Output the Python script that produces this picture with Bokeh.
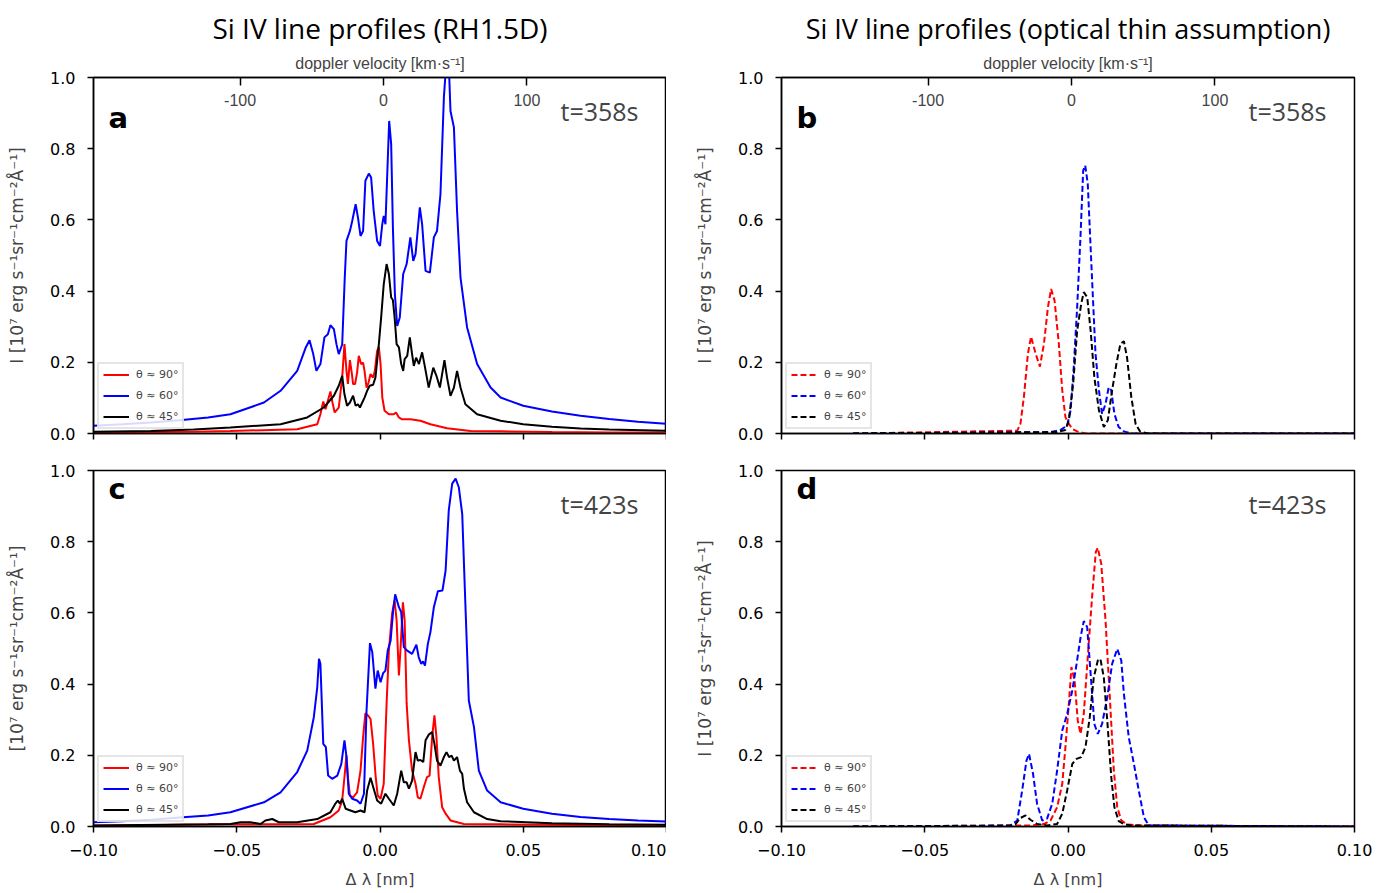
from bokeh.plotting import figure
from bokeh.layouts import gridplot
from bokeh.models import Range1d, LinearAxis, FixedTicker, Label, CustomJSTickFormatter
from bokeh.embed import file_html
from bokeh.resources import INLINE

# ---------------- data: panel a (RH1.5D, t=358s) ----------------
a_blue_x = [-0.1, -0.09, -0.08, -0.07, -0.06, -0.0522, -0.0405, -0.0347, -0.0289, -0.026, -0.0246, -0.0233,
            -0.0222, -0.0208, -0.0194, -0.0182, -0.0173, -0.0161, -0.0152, -0.0144, -0.0132, -0.0123, -0.0117,
            -0.0105, -0.0097, -0.0085, -0.0077, -0.0068, -0.0059, -0.0051, -0.0039, -0.0031, -0.0022, -0.001,
            0.0, 0.0008, 0.0013, 0.0019, 0.0027, 0.0032, 0.0039, 0.0045, 0.0052, 0.006, 0.0069, 0.0081, 0.0093,
            0.0106, 0.0116, 0.0124, 0.0139, 0.0147, 0.0159, 0.0174, 0.0188, 0.0199, 0.0211, 0.0223, 0.0232,
            0.024, 0.0246, 0.0258, 0.0269, 0.0281, 0.0304, 0.0339, 0.0386, 0.0421, 0.05, 0.06, 0.07, 0.08,
            0.09, 0.1]
a_blue_y = [0.022, 0.026, 0.031, 0.037, 0.045, 0.054, 0.087, 0.12, 0.176, 0.24, 0.262, 0.223,
            0.176, 0.195, 0.27, 0.279, 0.304, 0.293, 0.251, 0.223, 0.25, 0.438, 0.541,
            0.569, 0.597, 0.644, 0.607, 0.555, 0.569, 0.71, 0.73, 0.719, 0.625, 0.541,
            0.527, 0.588, 0.611, 0.588, 0.766, 0.878, 0.813, 0.579, 0.391, 0.302, 0.326, 0.448, 0.476,
            0.551, 0.485, 0.504, 0.635, 0.588, 0.457, 0.452, 0.551, 0.569, 0.672, 0.944, 1.05,
            1.04, 0.906, 0.86, 0.625, 0.438, 0.298, 0.195, 0.129, 0.101, 0.078, 0.062, 0.05, 0.041,
            0.033, 0.027]
a_red_x = [-0.1, -0.08, -0.065, -0.0522, -0.0289, -0.0219, -0.0208, -0.0198, -0.019, -0.0182, -0.0173,
           -0.0166, -0.0158, -0.0144, -0.0132, -0.0124, -0.0117, -0.0112, -0.0105, -0.0098, -0.0094,
           -0.0087, -0.008, -0.0074, -0.0066, -0.0059, -0.0054, -0.0047, -0.004, -0.0033, -0.0024,
           -0.0018, -0.001, -0.0004, 0.0002, 0.0008, 0.0016, 0.0031, 0.0048, 0.0056, 0.0066, 0.0077,
           0.0106, 0.0141, 0.0176, 0.0234, 0.0316, 0.0421, 0.06, 0.08, 0.1]
a_red_y = [0.003, 0.004, 0.005, 0.007, 0.012, 0.026, 0.054, 0.09, 0.068, 0.092, 0.118,
           0.087, 0.059, 0.073, 0.157, 0.251, 0.176, 0.139, 0.206, 0.167, 0.139,
           0.139, 0.171, 0.218, 0.195, 0.199, 0.176, 0.129, 0.143, 0.167, 0.157,
           0.176, 0.232, 0.243, 0.195, 0.101, 0.064, 0.054, 0.054, 0.059, 0.045, 0.04,
           0.04, 0.036, 0.026, 0.015, 0.007, 0.006, 0.004, 0.003, 0.003]
a_black_x = [-0.1, -0.08, -0.065, -0.0522, -0.0347, -0.0254, -0.0196, -0.0161, -0.0144, -0.0132, -0.0124,
             -0.0115, -0.0105, -0.0094, -0.0085, -0.0077, -0.007, -0.0062, -0.0054, -0.0045, -0.0036,
             -0.0024, -0.0016, -0.0004, 0.0004, 0.0013, 0.0023, 0.0031, 0.0039, 0.0045, 0.0051, 0.0058,
             0.0066, 0.0074, 0.0081, 0.0086, 0.0095, 0.0104, 0.0112, 0.0118, 0.0126, 0.0136, 0.0147,
             0.0155, 0.017, 0.0186, 0.0197, 0.0209, 0.0225, 0.0234, 0.0246, 0.0258, 0.0269, 0.0281,
             0.0298, 0.0339, 0.0421, 0.05, 0.06, 0.07, 0.08, 0.1]
a_black_y = [0.005, 0.007, 0.011, 0.017, 0.026, 0.045, 0.073, 0.106, 0.134, 0.162, 0.11,
             0.078, 0.087, 0.106, 0.078, 0.082, 0.073, 0.087, 0.101, 0.12, 0.134,
             0.137, 0.157, 0.251, 0.326, 0.419, 0.476, 0.448, 0.382, 0.375, 0.326, 0.251,
             0.242, 0.195, 0.176, 0.209, 0.218, 0.27, 0.223, 0.19, 0.213, 0.195, 0.228,
             0.195, 0.129, 0.185, 0.162, 0.129, 0.206, 0.157, 0.106, 0.129, 0.176, 0.129,
             0.082, 0.054, 0.036, 0.026, 0.019, 0.014, 0.011, 0.008]

# ---------------- data: panel c (RH1.5D, t=423s) ----------------
c_blue_x = [-0.1, -0.09, -0.08, -0.07, -0.06, -0.0522, -0.0405, -0.0347, -0.0289, -0.0254, -0.0231,
            -0.0219, -0.0213, -0.0208, -0.0198, -0.0189, -0.0181, -0.0167, -0.0149, -0.0135, -0.0124,
            -0.0117, -0.0109, -0.0097, -0.008, -0.0068, -0.0056, -0.0047, -0.0035, -0.0027, -0.0016,
            -0.0008, 0.0002, 0.0011, 0.0019, 0.0027, 0.0037, 0.0046, 0.0053, 0.0066, 0.0074, 0.0083,
            0.0095, 0.0112, 0.0127, 0.0135, 0.0144, 0.015, 0.0157, 0.0167, 0.0176, 0.0188, 0.0202,
            0.0218, 0.0229, 0.024, 0.0252, 0.0264, 0.0275, 0.0287, 0.0298, 0.031, 0.0328, 0.0345,
            0.0374, 0.0421, 0.05, 0.06, 0.07, 0.08, 0.09, 0.1]
c_blue_y = [0.012, 0.015, 0.019, 0.025, 0.031, 0.04, 0.068, 0.096, 0.153, 0.213, 0.307,
            0.391, 0.471, 0.457, 0.232, 0.223, 0.143, 0.134, 0.143, 0.176, 0.242,
            0.195, 0.092, 0.078, 0.073, 0.064, 0.092, 0.326, 0.515, 0.49, 0.387,
            0.438, 0.405, 0.431, 0.438, 0.494, 0.522, 0.607, 0.652, 0.616, 0.602, 0.504,
            0.494, 0.485, 0.511, 0.476, 0.457, 0.464, 0.452, 0.513, 0.546, 0.616, 0.661,
            0.663, 0.719, 0.888, 0.963, 0.977, 0.953, 0.878, 0.625, 0.354, 0.279, 0.157,
            0.101, 0.068, 0.05, 0.036, 0.027, 0.021, 0.017, 0.014]
c_red_x = [-0.1, -0.075, -0.0522, -0.0231, -0.0173, -0.0144, -0.0132, -0.0124, -0.0117, -0.0112,
           -0.0105, -0.0094, -0.008, -0.0068, -0.0059, -0.0051, -0.0042, -0.0033, -0.0024, -0.0015,
           -0.0008, 0.0002, 0.0013, 0.0023, 0.0031, 0.0042, 0.0051, 0.0058, 0.0066, 0.0072, 0.008,
           0.0086, 0.0093, 0.0101, 0.0112, 0.0124, 0.0132, 0.0141, 0.0153, 0.0164, 0.0173, 0.0182,
           0.019, 0.0197, 0.0205, 0.0217, 0.0229, 0.0246, 0.0293, 0.0421, 0.07, 0.1]
c_red_y = [0.003, 0.004, 0.006, 0.007, 0.026, 0.045, 0.073, 0.139, 0.2, 0.139,
           0.087, 0.082, 0.096, 0.157, 0.251, 0.318, 0.312, 0.302, 0.232, 0.139,
           0.087, 0.078, 0.12, 0.345, 0.494, 0.597, 0.635, 0.579, 0.424, 0.504, 0.63,
           0.579, 0.345, 0.242, 0.157, 0.12, 0.082, 0.078, 0.111, 0.139, 0.143, 0.251,
           0.312, 0.251, 0.139, 0.054, 0.036, 0.017, 0.007, 0.006, 0.004, 0.003]
c_black_x = [-0.1, -0.075, -0.06, -0.0522, -0.0487, -0.0452, -0.0417, -0.04, -0.0376, -0.0353, -0.0289,
             -0.0219, -0.0173, -0.0156, -0.0147, -0.014, -0.0132, -0.012, -0.0103, -0.0086, -0.0068,
             -0.0054, -0.0045, -0.0033, -0.0022, -0.001, 0.0004, 0.0019, 0.0031, 0.0048, 0.006, 0.0074,
             0.0083, 0.0093, 0.0101, 0.0112, 0.0124, 0.0132, 0.0141, 0.0151, 0.0159, 0.017, 0.0182,
             0.019, 0.0199, 0.0211, 0.0223, 0.0232, 0.0241, 0.025, 0.0258, 0.0269, 0.0279, 0.0287,
             0.0293, 0.0304, 0.0328, 0.0374, 0.0421, 0.06, 0.08, 0.1]
c_black_y = [0.003, 0.005, 0.006, 0.007, 0.012, 0.012, 0.007, 0.017, 0.021, 0.012, 0.012,
             0.021, 0.04, 0.064, 0.073, 0.064, 0.078, 0.05, 0.045, 0.04, 0.045,
             0.04, 0.101, 0.137, 0.106, 0.073, 0.064, 0.092, 0.078, 0.059, 0.092, 0.157,
             0.124, 0.124, 0.106, 0.129, 0.209, 0.185, 0.187, 0.181, 0.242, 0.258, 0.265,
             0.232, 0.185, 0.171, 0.195, 0.209, 0.195, 0.199, 0.185, 0.195, 0.157, 0.148,
             0.106, 0.068, 0.04, 0.021, 0.015, 0.009, 0.006, 0.005]

# ---------------- data: panel b (optically thin, t=358s) ----------------
b_red_x = [-0.075, -0.0177, -0.0166, -0.0154, -0.014, -0.0129, -0.0113, -0.0098, -0.0084, -0.007,
           -0.0059, -0.0047, -0.0032, -0.002, -0.0009, 0.0003, 0.0015, 0.0032, 0.006, 0.1]
b_red_y = [0.0, 0.008, 0.027, 0.102, 0.224, 0.272, 0.224, 0.188, 0.252, 0.355,
           0.406, 0.374, 0.252, 0.121, 0.046, 0.027, 0.013, 0.006, 0.0, 0.0]
b_blue_x = [-0.075, -0.0061, -0.0026, -0.0003, 0.0009, 0.002, 0.0032, 0.0044, 0.0053, 0.006, 0.0069,
            0.0081, 0.0096, 0.0108, 0.0119, 0.0131, 0.0142, 0.0151, 0.0162, 0.0177, 0.0195, 0.022, 0.1]
b_blue_y = [0.0, 0.004, 0.01, 0.022, 0.065, 0.186, 0.355, 0.561, 0.739, 0.753, 0.701,
            0.486, 0.224, 0.121, 0.055, 0.083, 0.13, 0.121, 0.055, 0.018, 0.006, 0.0, 0.0]
b_black_x = [-0.075, -0.0038, -0.0009, 0.0003, 0.0018, 0.0032, 0.0046, 0.0055, 0.0067, 0.0079, 0.0092,
             0.0108, 0.0125, 0.0139, 0.0154, 0.0169, 0.0183, 0.0195, 0.0206, 0.0221, 0.0236, 0.0251,
             0.028, 0.1]
b_black_y = [0.0, 0.004, 0.01, 0.037, 0.14, 0.289, 0.364, 0.397, 0.383, 0.289, 0.158,
             0.065, 0.018, 0.037, 0.121, 0.196, 0.252, 0.259, 0.214, 0.102, 0.027, 0.006,
             0.0, 0.0]

# ---------------- data: panel d (optically thin, t=423s) ----------------
d_red_x = [-0.075, -0.0131, -0.0084, -0.0061, -0.0038, -0.002, -0.0009, 0.0003, 0.0012, 0.0023, 0.0034,
           0.0044, 0.0055, 0.0069, 0.0084, 0.0097, 0.0104, 0.0116, 0.0131, 0.0146, 0.016, 0.0172,
           0.0186, 0.0206, 0.0253, 0.1]
d_red_y = [0.0, 0.003, 0.007, 0.017, 0.054, 0.12, 0.223, 0.345, 0.448, 0.41, 0.298,
           0.26, 0.316, 0.476, 0.644, 0.771, 0.783, 0.738, 0.579, 0.363, 0.157, 0.054,
           0.017, 0.006, 0.003, 0.0]
d_blue_x = [-0.075, -0.0201, -0.0177, -0.016, -0.0145, -0.0136, -0.0122, -0.0108, -0.009, -0.0073,
            -0.0055, -0.0038, -0.002, -0.0003, 0.0015, 0.003, 0.0044, 0.0055, 0.0067, 0.0079, 0.0092,
            0.0104, 0.0119, 0.0137, 0.0154, 0.0172, 0.0186, 0.0195, 0.0212, 0.023, 0.0247, 0.0265,
            0.0282, 0.1]
d_blue_y = [0.0, 0.003, 0.017, 0.101, 0.185, 0.204, 0.148, 0.064, 0.017, 0.022,
            0.064, 0.157, 0.27, 0.316, 0.382, 0.457, 0.532, 0.577, 0.56, 0.429, 0.288,
            0.26, 0.288, 0.363, 0.457, 0.499, 0.466, 0.373, 0.251, 0.176, 0.101, 0.026,
            0.003, 0.0]
d_black_x = [-0.075, -0.0201, -0.0183, -0.0166, -0.0148, -0.0131, -0.0108, -0.0073, -0.0038, -0.002,
             -0.0003, 0.0015, 0.003, 0.0046, 0.0061, 0.0076, 0.009, 0.0104, 0.0113, 0.0125, 0.0137,
             0.0151, 0.0162, 0.0177, 0.0195, 0.0218, 0.1]
d_black_y = [0.0, 0.002, 0.007, 0.024, 0.031, 0.019, 0.007, 0.003, 0.007, 0.036,
             0.101, 0.176, 0.19, 0.195, 0.223, 0.307, 0.419, 0.466, 0.471, 0.419, 0.298,
             0.139, 0.054, 0.015, 0.007, 0.003, 0.0]

x_ticks = [-0.1, -0.05, 0.0, 0.05, 0.1]
y_ticks = [0.0, 0.2, 0.4, 0.6, 0.8, 1.0]
v_ticks = [-100, 0, 100]
legend_labels = ["θ ≈ 90°", "θ ≈ 60°", "θ ≈ 45°"]
colors = ["red", "blue", "black"]
titles = ["Si IV line profiles (RH1.5D)", "Si IV line profiles (optical thin assumption)"]
ylabel = "I [10⁷ erg s⁻¹sr⁻¹cm⁻²Å⁻¹]"
ylabel_c = "[10⁷ erg s⁻¹sr⁻¹cm⁻²Å⁻¹]"
xlabel = "Δ λ [nm]"
vlabel = "doppler velocity [km·s⁻¹]"

TICK_FONT = "DejaVu Sans"

x_fmt = CustomJSTickFormatter(code="return (tick < -1e-9 ? '\u2212' : '') + Math.abs(tick).toFixed(2);")
y_fmt = CustomJSTickFormatter(code="return tick.toFixed(1);")
v_fmt = CustomJSTickFormatter(code="return String(Math.round(tick));")
blank_fmt = CustomJSTickFormatter(code="return '';")


def make_panel(series, dashed, letter, tlabel, top_row, left_col, title, ylab):
    kw = dict(frame_width=573, frame_height=356,
              x_range=Range1d(-0.1, 0.1), y_range=Range1d(0, 1),
              output_backend="svg", toolbar_location=None,
              min_border_left=93 if left_col else 115,
              min_border_right=0 if left_col else 33,
              min_border_top=77 if top_row else 27,
              min_border_bottom=10 if top_row else 67)
    p = figure(**kw)
    p.background_fill_color = "white"
    p.border_fill_color = "white"
    p.outline_line_color = "black"
    p.outline_line_width = 1.5
    p.grid.visible = False

    for (xs, ys), col, lab in zip(series, colors, legend_labels):
        if dashed:
            p.line(xs, ys, line_color=col, line_width=2, line_dash="6 3", legend_label=lab)
        else:
            p.line(xs, ys, line_color=col, line_width=2, legend_label=lab)

    # axes
    p.xaxis.ticker = FixedTicker(ticks=x_ticks)
    p.yaxis.ticker = FixedTicker(ticks=y_ticks)
    p.yaxis.formatter = y_fmt
    p.xaxis.formatter = blank_fmt if top_row else x_fmt
    for ax in p.xaxis + p.yaxis:
        ax.major_tick_in = 0
        ax.major_tick_out = 6
        ax.major_tick_line_width = 1.5
        ax.axis_line_width = 1.5
        ax.minor_tick_line_color = None
        ax.major_label_text_font = TICK_FONT
        ax.major_label_text_font_size = "16px"
        ax.major_label_text_color = "black"
    p.yaxis.major_label_standoff = 12
    p.xaxis.major_label_standoff = 11
    p.yaxis.axis_label = ylab
    p.yaxis.axis_label_text_font = TICK_FONT
    p.yaxis.axis_label_text_font_size = "17px"
    p.yaxis.axis_label_text_font_style = "normal"
    p.yaxis.axis_label_standoff = 20
    if not top_row:
        p.xaxis.axis_label = xlabel
        p.xaxis.axis_label_text_font = TICK_FONT
        p.xaxis.axis_label_text_font_size = "16px"
        p.xaxis.axis_label_text_font_style = "normal"
        p.xaxis.axis_label_standoff = 11

    if top_row:
        p.extra_x_ranges = {"v": Range1d(-202.2, 197.3)}
        top = LinearAxis(x_range_name="v", ticker=FixedTicker(ticks=v_ticks), formatter=v_fmt,
                         major_tick_in=8, major_tick_out=0, major_label_standoff=-28,
                         minor_tick_line_color=None, axis_line_width=1.5, major_tick_line_width=1.5,
                         major_label_text_font="Liberation Sans", major_label_text_font_size="16px",
                         axis_label=vlabel, axis_label_text_font="Liberation Sans",
                         axis_label_text_font_size="16px", axis_label_text_font_style="normal",
                         axis_label_standoff=19)
        p.add_layout(top, "above")
        p.title.text = title
        p.title.align = "center"
        p.title.offset = 10 if left_col else -6
        p.title.text_font = "Open Sans"
        p.title.text_font_size = "28px" if left_col else "27px"
        p.title.text_font_style = "normal"
        p.title.text_color = "black"

    p.add_layout(Label(x=15, y=299 if top_row else 321, x_units="screen", y_units="screen", text=letter,
                       text_font="DejaVu Sans", text_font_size="29px", text_font_style="bold",
                       text_color="black"))
    p.add_layout(Label(x=545, y=306, x_units="screen", y_units="screen", text=tlabel,
                       text_align="right", text_font="Open Sans", text_font_size="25px",
                       text_font_style="normal", text_color="#444444"))

    lg = p.legend[0]
    lg.location = "bottom_left"
    lg.margin = 4
    lg.padding = 4
    lg.spacing = 8
    lg.glyph_width = 26
    lg.glyph_height = 13
    lg.label_height = 13
    lg.label_standoff = 7
    lg.label_text_font = "DejaVu Sans"
    lg.label_text_font_size = "11px"
    lg.border_line_color = "#cccccc"
    lg.border_line_width = 2
    lg.background_fill_alpha = 0.85
    return p


pa = make_panel([(a_red_x, a_red_y), (a_blue_x, a_blue_y), (a_black_x, a_black_y)], False,
                "a", "t=358s", True, True, titles[0], ylabel)
pb = make_panel([(b_red_x, b_red_y), (b_blue_x, b_blue_y), (b_black_x, b_black_y)], True,
                "b", "t=358s", True, False, titles[1], ylabel)
pc = make_panel([(c_red_x, c_red_y), (c_blue_x, c_blue_y), (c_black_x, c_black_y)], False,
                "c", "t=423s", False, True, None, ylabel_c)
pd = make_panel([(d_red_x, d_red_y), (d_blue_x, d_blue_y), (d_black_x, d_black_y)], True,
                "d", "t=423s", False, False, None, ylabel)

grid = gridplot([[pa, pb], [pc, pd]], toolbar_location=None)

open("out.html", "w").write(file_html(grid, INLINE))
